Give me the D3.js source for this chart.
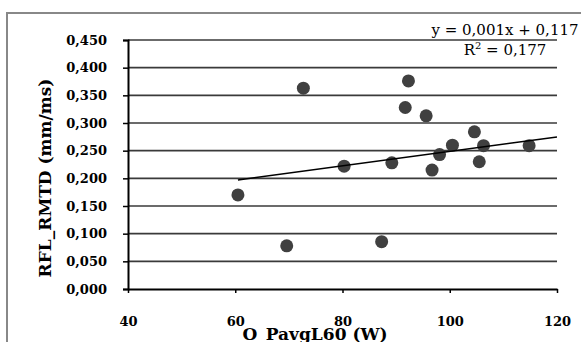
<!DOCTYPE html>
<html>
<head>
<meta charset="utf-8">
<script src="https://cdn.jsdelivr.net/npm/d3@7"></script>
<style>
  body { margin: 0; background: #fff; }
  svg { display: block; }
</style>
</head>
<body>
<svg></svg>
<script>
var width = 581;
var height = 342;

// data
var xValues = [60.5, 69.6, 72.7, 80.3, 87.3, 89.2, 92.3, 91.7, 95.6, 96.7, 98.1, 100.5, 104.6, 106.3, 105.5, 114.8];
var yValues = [0.170, 0.078, 0.363, 0.222, 0.0855, 0.228, 0.376, 0.328, 0.313, 0.215, 0.243, 0.260, 0.284, 0.259, 0.230, 0.259];
var xTicks = [40, 60, 80, 100, 120];
var yTicks = [0, 0.05, 0.1, 0.15, 0.2, 0.25, 0.3, 0.35, 0.4, 0.45];
var trendSlope = 0.00131;
var trendIntercept = 0.1177;
var trendRange = [60.5, 120];
var eqLines = ["y = 0,001x + 0,117", "R", " = 0,177"];

var svg = d3.select('svg')
            .attr('width', width)
            .attr('height', height);

var x = d3.scaleLinear().domain([40, 120]).range([128, 557]);
var y = d3.scaleLinear().domain([0, 0.45]).range([289, 40]);

var fmt = function(d) { return d3.format('.3f')(d).replace('.', ','); };

// outer frame (runs off the right and bottom)
svg.append('rect')
   .attr('x', 7).attr('y', 13)
   .attr('width', 600).attr('height', 400)
   .attr('fill', 'none')
   .attr('stroke', '#888')
   .attr('stroke-width', 2);

// gridlines
svg.append('g')
   .selectAll('line')
   .data(yTicks.slice(1))
   .enter()
   .append('line')
   .attr('x1', x(40)).attr('x2', x(120))
   .attr('y1', d => y(d)).attr('y2', d => y(d))
   .attr('stroke', '#3a3a3a')
   .attr('stroke-width', 1.6);

// y axis
var yAxis = svg.append('g')
   .attr('transform', 'translate(' + x(40) + ',0)')
   .call(d3.axisLeft(y).tickValues(yTicks).tickFormat(fmt).tickSize(5).tickPadding(16));
yAxis.select('.domain').attr('stroke', '#000').attr('stroke-width', 2);
yAxis.selectAll('.tick line').attr('stroke', '#000').attr('stroke-width', 1.5);
yAxis.selectAll('text')
     .attr('font-family', 'DejaVu Serif')
     .attr('font-weight', 'bold')
     .attr('font-size', 13)
     .attr('fill', '#000');

// x axis
var xAxis = svg.append('g')
   .attr('transform', 'translate(0,' + y(0) + ')')
   .call(d3.axisBottom(x).tickValues(xTicks).tickSize(4).tickPadding(24).tickSizeOuter(0));
xAxis.select('.domain').attr('stroke', '#000').attr('stroke-width', 2);
xAxis.selectAll('.tick line').attr('stroke', '#000').attr('stroke-width', 1.5);
xAxis.selectAll('text')
     .attr('font-family', 'DejaVu Serif')
     .attr('font-weight', 'bold')
     .attr('font-size', 13)
     .attr('fill', '#000');

// points
svg.append('g')
   .selectAll('circle')
   .data(xValues.map((v, i) => [v, yValues[i]]))
   .enter()
   .append('circle')
   .attr('cx', d => x(d[0]))
   .attr('cy', d => y(d[1]))
   .attr('r', 6.5)
   .attr('fill', '#404040');

// trendline
svg.append('line')
   .attr('x1', x(trendRange[0]))
   .attr('y1', y(trendSlope * trendRange[0] + trendIntercept))
   .attr('x2', x(trendRange[1]))
   .attr('y2', y(trendSlope * trendRange[1] + trendIntercept))
   .attr('stroke', '#000')
   .attr('stroke-width', 1.5);

// equation
svg.append('text')
   .attr('x', 505).attr('y', 35)
   .attr('text-anchor', 'middle')
   .attr('font-family', 'DejaVu Serif')
   .attr('font-size', 15)
   .text(eqLines[0]);
var r2 = svg.append('text')
   .attr('x', 505).attr('y', 55)
   .attr('text-anchor', 'middle')
   .attr('font-family', 'DejaVu Serif')
   .attr('font-size', 15);
r2.append('tspan').text(eqLines[1]);
r2.append('tspan').attr('dy', -6).attr('font-size', 10).text('2');
r2.append('tspan').attr('dy', 6).text(eqLines[2]);

// axis titles
svg.append('text')
   .attr('x', 315).attr('y', 340)
   .attr('text-anchor', 'middle')
   .attr('font-family', 'DejaVu Serif')
   .attr('font-weight', 'bold')
   .attr('font-size', 17)
   .text('O_PavgL60 (W)');

svg.append('text')
   .attr('transform', 'translate(51,178) rotate(-90)')
   .attr('text-anchor', 'middle')
   .attr('font-family', 'DejaVu Serif')
   .attr('font-weight', 'bold')
   .attr('font-size', 17)
   .text('RFL_RMTD (mm/ms)');
</script>
</body>
</html>
